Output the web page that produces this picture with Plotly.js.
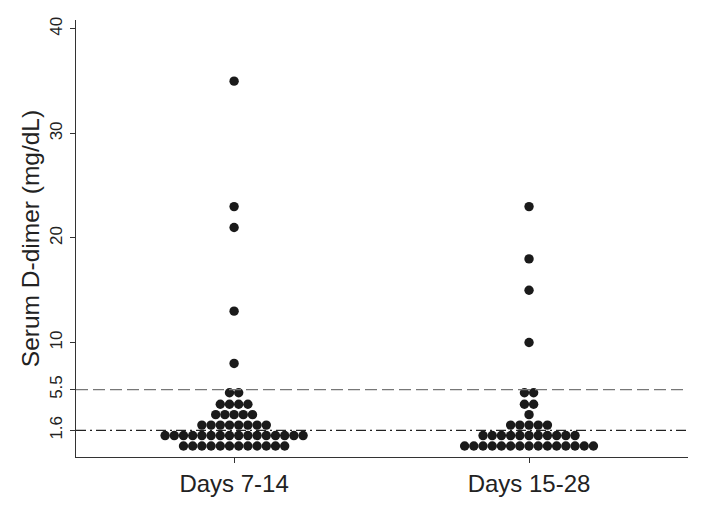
<!DOCTYPE html>
<html>
<head>
<meta charset="utf-8">
<script src="https://cdn.plot.ly/plotly-3.0.1.min.js"></script>
<style>html,body{margin:0;padding:0;background:#fff;}#chart{width:721px;height:506px;}</style>
</head>
<body>
<div id="chart"></div>
<script>
// ---- data ----
var categories = ["Days 7-14", "Days 15-28"];
// dot-plot rows: level (mg/dL) and number of patients in that row
var days7to14Levels = [0.1, 1.1, 2.1, 3.1, 4.1, 5.2, 8, 13, 21, 23, 35];
var days7to14Counts = [12, 16, 8, 5, 4, 2, 1, 1, 1, 1, 1];
var days15to28Levels = [0.1, 1.1, 2.1, 3.1, 4.1, 5.2, 10, 15, 18, 23];
var days15to28Counts = [15, 11, 5, 1, 2, 2, 1, 1, 1, 1];
var yTickValues = [1.6, 5.5, 10, 20, 30, 40];
var yTickLabels = ["1.6", "5.5", "10", "20", "30", "40"];
var cutoffDashed = 5.5;
var cutoffDashDot = 1.6;

// ---- layout constants ----
var W = 721, H = 506;
var margin = {l: 76, r: 33, t: 20, b: 49};
var xRange = [0.464, 2.539];
var yRange = [-0.95, 40.85];
var dotSpacingPx = 9.2;
var pxPerX = (W - margin.l - margin.r) / (xRange[1] - xRange[0]);
var dx = dotSpacingPx / pxPerX;

function swarm(center, levels, counts) {
  var xs = [], ys = [];
  for (var i = 0; i < levels.length; i++) {
    var n = counts[i];
    for (var k = 0; k < n; k++) {
      xs.push(center + (k - (n - 1) / 2) * dx);
      ys.push(levels[i]);
    }
  }
  return {x: xs, y: ys};
}

var g1 = swarm(1, days7to14Levels, days7to14Counts);
var g2 = swarm(2, days15to28Levels, days15to28Counts);

var marker = {color: "#1a1a1a", size: 9.4, line: {width: 0}};
var traces = [
  {type: "scatter", mode: "markers", x: g1.x, y: g1.y, name: categories[0], marker: marker, hoverinfo: "y"},
  {type: "scatter", mode: "markers", x: g2.x, y: g2.y, name: categories[1], marker: marker, hoverinfo: "y"}
];

var font = "Liberation Sans, Arial, sans-serif";
var layout = {
  width: W, height: H,
  margin: margin,
  paper_bgcolor: "#fff", plot_bgcolor: "#fff",
  showlegend: false,
  font: {family: font, color: "#222"},
  xaxis: {
    range: xRange, tickvals: [1, 2], ticktext: categories,
    showgrid: false, zeroline: false,
    showline: true, linecolor: "#333", linewidth: 1.3,
    ticks: "outside", ticklen: 5, tickcolor: "#333", tickwidth: 1,
    tickfont: {size: 24, family: font, color: "#222"}
  },
  yaxis: {
    range: yRange, tickvals: yTickValues, ticktext: yTickLabels,
    showgrid: false, zeroline: false,
    showline: true, linecolor: "#333", linewidth: 1.3,
    ticks: "outside", ticklen: 5, tickcolor: "#333", tickwidth: 1,
    tickangle: -90, ticklabelstandoff: 1,
    tickfont: {size: 17, family: font, color: "#222"},
    title: {text: "Serum D-dimer (mg/dL)", font: {size: 24.5, family: font, color: "#222"}, standoff: 0}
  },
  shapes: [
    {type: "line", xref: "paper", yref: "y", x0: 0, x1: 1, y0: cutoffDashed, y1: cutoffDashed,
     line: {color: "#777", width: 1.3, dash: "12px,5px"}},
    {type: "line", xref: "paper", yref: "y", x0: 0, x1: 1, y0: cutoffDashDot, y1: cutoffDashDot,
     line: {color: "#222", width: 1.3, dash: "10px,4px,2px,4px"}}
  ]
};

Plotly.newPlot("chart", traces, layout, {displayModeBar: false, staticPlot: true});
</script>
</body>
</html>
